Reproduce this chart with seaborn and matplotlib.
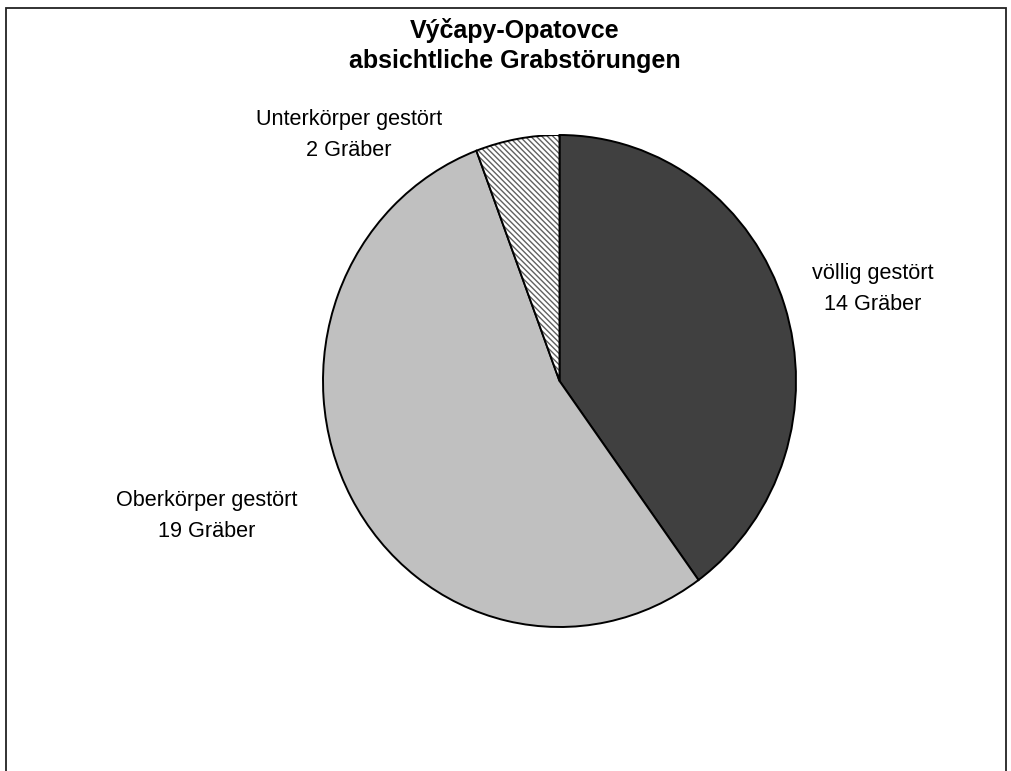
import matplotlib
matplotlib.use("Agg")
import matplotlib.pyplot as plt
import matplotlib.patches as mpatches
import seaborn as sns

# data
categories = ["völlig gestört", "Oberkörper gestört", "Unterkörper gestört"]
graves = [14, 19, 2]
colors = ["#404040", "#c0c0c0", "#ffffff"]
title_lines = ["Výčapy-Opatovce", "absichtliche Grabstörungen"]

sns.set_theme(style="white")
plt.rcParams["font.family"] = ["Liberation Sans", "DejaVu Sans"]
plt.rcParams["hatch.linewidth"] = 1.0
plt.rcParams["text.color"] = "black"

W, H = 1011, 771
fig = plt.figure(figsize=(W / 100, H / 100), dpi=100)
fig.patch.set_facecolor("white")

# pie axes: x from 323 to 796 px, y from 135 to 627 px
ax = fig.add_axes([323 / W, 1 - 627 / H, 473 / W, 492 / H])
wedges, _ = ax.pie(graves, colors=colors, startangle=90, counterclock=False,
                   radius=1, wedgeprops=dict(edgecolor="black", linewidth=1.4))
ax.set_aspect("auto")
ax.set_xlim(-1, 1)
ax.set_ylim(-1, 1)
ax.axis("off")

# hatched slice (Unterkörper)
w = wedges[2]
w.set_edgecolor("#606060")
w.set_linewidth(0)
w.set_hatch("\\" * 6)
outline = mpatches.Wedge(w.center, w.r, w.theta1, w.theta2, fill=False,
                         edgecolor="black", linewidth=1.4)
ax.add_patch(outline)

# title
fig.text(515 / W, 1 - 38 / H, title_lines[0], ha="center", va="baseline",
         fontsize=18, fontweight="bold", color="black")
fig.text(515 / W, 1 - 68 / H, title_lines[1], ha="center", va="baseline",
         fontsize=18, fontweight="bold", color="black")

# labels: (x center, baseline of first line) in pixels
label_pos = [(873, 279), (207, 506), (349, 125)]
for cat, n, (x, y) in zip(categories, graves, label_pos):
    fig.text(x / W, 1 - y / H, cat, ha="center", va="baseline",
             fontsize=15.6, color="black")
    fig.text(x / W, 1 - (y + 31) / H, f"{n} Gräber", ha="center",
             va="baseline", fontsize=15.6, color="black")

# chart area frame
fig.patches.append(mpatches.Rectangle((5.5 / W, -0.02), 1000 / W, 1.02 - 8 / H,
                                      transform=fig.transFigure, fill=False,
                                      edgecolor="#222222", linewidth=1.3))

fig.savefig("out.png", dpi=100)
